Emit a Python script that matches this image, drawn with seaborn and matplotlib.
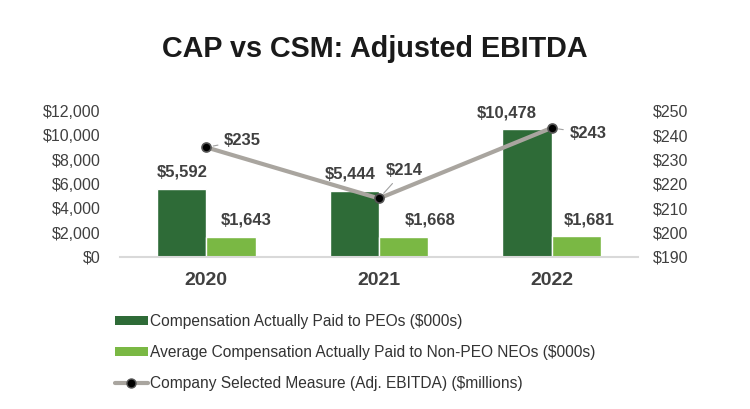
import pandas as pd
import matplotlib
matplotlib.use('Agg')
import matplotlib.pyplot as plt
from matplotlib.patches import Patch
from matplotlib.lines import Line2D
import seaborn as sns

years = ['2020', '2021', '2022']
cap_peo = [5592, 5444, 10478]
cap_neo = [1643, 1668, 1681]
ebitda = [235, 214, 243]

series_names = ['Compensation Actually Paid to PEOs ($000s)',
                'Average Compensation Actually Paid to Non-PEO NEOs ($000s)']
line_name = 'Company Selected Measure (Adj. EBITDA) ($millions)'

dark = '#2e6b37'
light = '#7ab844'
grey = '#a9a59f'
txt = '#404040'

sns.set_theme(style='white')
plt.rcParams['font.family'] = ['Liberation Sans', 'DejaVu Sans']

df = pd.DataFrame({
    'Year': years * 2,
    'Value': cap_peo + cap_neo,
    'Series': [series_names[0]] * 3 + [series_names[1]] * 3,
})

fig = plt.figure(figsize=(7.5, 4.09), dpi=100)
ax = fig.add_axes([0.16, 0.372, 0.6907, 0.357])
sns.barplot(data=df, x='Year', y='Value', hue='Series', palette=[dark, light],
            width=0.57, gap=0, saturation=1, legend=False, ax=ax)
ax.set_ylim(0, 12000)
ax.set_yticks(range(0, 12001, 2000))
ax.set_yticklabels([f'${v:,}' for v in range(0, 12001, 2000)])
ax.set_xlabel('')
ax.set_ylabel('')
ax.tick_params(axis='y', length=0, pad=14, labelsize=11.5, labelcolor=txt)
ax.tick_params(axis='x', length=0, pad=11, labelsize=14, labelcolor=txt)
for lb in ax.get_xticklabels():
    lb.set_fontweight('bold')
for s in ['top', 'left', 'right']:
    ax.spines[s].set_visible(False)
ax.spines['bottom'].set_color('#d9d9d9')
ax.spines['bottom'].set_linewidth(1.5)

# bar value labels (x nudges as in the original layout)
label_dx = [[0, -3, -15], [11, 19, 9]]
for k, bars in enumerate(ax.containers):
    for j, (b, v) in enumerate(zip(bars, bars.datavalues)):
        ax.annotate(f'${int(v):,}', (b.get_x() + b.get_width() / 2, v),
                    xytext=(label_dx[k][j], 12), textcoords='offset points',
                    ha='center', va='center', fontsize=12, fontweight='bold', color=txt)

ax2 = ax.twinx()
sns.pointplot(x=years, y=ebitda, ax=ax2, color=grey, markers='o', linestyles='-',
              errorbar=None, linewidth=3, markersize=6.5)
ln = ax2.lines[0]
ln.set_markerfacecolor('black')
ln.set_markeredgecolor('#555555')
ln.set_markeredgewidth(1.2)
ax2.set_ylim(190, 250)
ax2.set_yticks(range(190, 251, 10))
ax2.set_yticklabels([f'${v}' for v in range(190, 251, 10)])
ax2.tick_params(axis='y', length=0, pad=11, labelsize=11.5, labelcolor=txt)
ax2.set_ylabel('')
for s in ['top', 'left', 'right', 'bottom']:
    ax2.spines[s].set_visible(False)

offsets = [(26, 5), (18, 20), (26, -4)]
for i, (v, off) in enumerate(zip(ebitda, offsets)):
    ax2.annotate(f'${v}', (i, v), xytext=off, textcoords='offset points',
                 ha='center', va='center',
                 fontsize=12, fontweight='bold', color=txt,
                 arrowprops=dict(arrowstyle='-', color='#a0a0a0', lw=0.8,
                                 shrinkA=2, shrinkB=5))

fig.text(0.5, 0.88, 'CAP vs CSM: Adjusted EBITDA', ha='center', va='center',
         fontsize=20.7, fontweight='bold', color='#1a1a1a')

handles = [Patch(facecolor=dark, edgecolor='none'),
           Patch(facecolor=light, edgecolor='none'),
           Line2D([0], [0], color=grey, lw=3, marker='o', markersize=6.5,
                  markerfacecolor='black', markeredgecolor='#555555')]
fig.legend(handles, series_names + [line_name], loc='upper left',
           bbox_to_anchor=(0.153, 0.233), frameon=False, fontsize=11.2,
           handlelength=2.15, handleheight=0.5, handletextpad=0.1,
           labelspacing=1.03, borderpad=0, borderaxespad=0, labelcolor='#333333')

fig.savefig('out.png', dpi=100, facecolor='white')
